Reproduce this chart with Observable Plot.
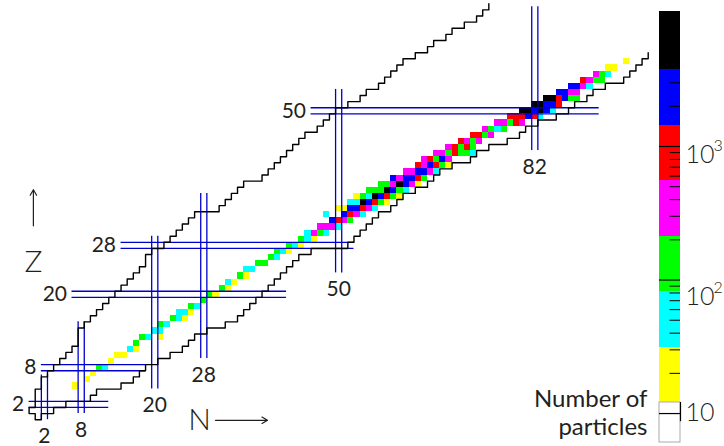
<!DOCTYPE html>
<html><head><meta charset="utf-8">
<script src="https://cdn.jsdelivr.net/npm/d3@7"></script>
<script src="https://cdn.jsdelivr.net/npm/@observablehq/plot@0.6"></script>
<style>
body{margin:0;background:#fff;}
#wrap{position:relative;width:724px;height:446px;overflow:hidden;}
#wrap svg{position:absolute;left:0;top:0;}
</style></head><body><div id="wrap"></div>
<script>
// ---------- data ----------
const levelCodes = "YCGMRBK";
const levelColors = ["#ffff00","#00ffff","#00ff00","#ff00ff","#ff0000","#0000ff","#000000"];
// [Z, first N, colour level codes along N ('.' = empty)]
const cellRows = [
 [5,7,"Y"],[6,9,"Y"],[7,10,"Y"],[8,11,"GC"],[9,13,"Y"],[10,14,"YY"],[11,16,"CY"],[12,17,"G"],
 [13,18,"GC.Y"],[14,20,"CC"],[15,21,"GC"],[16,23,"GCY"],[17,24,"CCY"],[18,26,"GC"],[19,28,"G"],
 [20,29,"GY"],[21,31,"GY"],[22,32,"CY"],[23,34,"GY"],[24,35,"CC"],[25,37,"GG"],[26,39,"GC"],
 [27,40,"GCY"],[28,42,"GCY"],[29,44,"GCY"],[30,45,"CMGC"],[31,47,"MMMC"],[32,49,"BRMG"],
 [33,48,"C..BRMC"],[34,50,"YYBBRMC"],[35,52,"CCKBRGY"],[36,53,"YGCKBRGY"],[37,55,"GGGKBGC"],
 [38,57,"GGMKBMY"],[39,59,"BMBBRG"],[40,61,"MMBBMC"],[41,63,"RMBRGY"],[42,64,"MRGBM"],
 [43,66,"MMGRGGC"],[44,68,"MRGRG"],[45,70,"RMGM"],[46,72,"RRGM"],[47,74,"MGCG"],[48,76,"MMGRM"],
 [49,78,"RRRBRC"],[50,80,"KKBKBC"],[51,82,"KKBBR"],[52,84,"KKRBGG"],[53,86,"BBMM"],[54,88,"BBMC"],
 [55,90,"RMGG"],[56,92,"MGC"],[57,94,"YY"],[58,97,"Y"]
];
// lightest N for Z = 0..67 (proton drip line) and heaviest N for Z = 0..59 (neutron drip line)
const protonDripNmin = [1,0,1,1,1,2,2,3,4,5,6,7,8,8,8,9,10,11,12,13,14,15,16,17,18,19,19,20,22,23,24,25,26,27,31,32,33,34,35,38,39,40,41,42,43,44,45,47,48,49,50,52,54,55,57,58,59,60,61,63,65,66,68,69,71,73,74,75];
const neutronDripNmax = [1,3,5,9,10,14,16,17,18,20,22,24,25,26,28,31,33,34,35,36,37,38,39,40,41,42,43,45,51,52,53,54,55,56,58,59,60,62,64,65,66,68,71,72,74,77,79,80,82,85,87,88,90,91,93,96,97,98,99,100];
// magic numbers
const magicN = [2,8,20,28,50,82];
const magicNZfrom = [-0.5,0.5,4.5,9.5,23.5,43.5];
const magicNZto = [6.8,15.5,29.5,36.5,53.5,67];
const magicZ = [2,8,20,28,50];
const magicZNfrom = [-0.5,1.5,6.5,14.5,45.5];
const magicZNto = [12.5,18.5,41.5,52.5,92.5];
// colour bar
const barEdges = [6.07,12.1,31.4,81.8,213,555,1444,3758,10260];
const barColors = ["#ffffff",...levelColors];
const majorTicks = [10,100,1000];
const minorTicks = [20,30,40,50,60,70,80,90,200,300,400,500,600,700,800,900,2000,3000,4000,5000,6000,7000,8000,9000];
const tickBase = ["10","10","10"];
const tickExp = ["","2","3"];
const tickShift = [-1,17,8];
// axis captions (chart units)
const axisArrows = [{x1:29.9,y1:-0.6,x2:38.4,y2:-0.6},{x1:0.2,y1:31.2,x2:0.2,y2:37.1}];
const axisNames = [{t:"N",x:27.3,y:-0.6},{t:"Z",x:0.2,y:25.2}];

// ---------- derived tables ----------
const cells = [];
for (const [z,n0,codes] of cellRows) {
  [...codes].forEach((ch,i)=>{ if (ch !== ".") cells.push({N:n0+i, Z:z, level:levelCodes.indexOf(ch)}); });
}
const outline = [];
for (let z = protonDripNmin.length-1; z >= 0; z--) { const x = protonDripNmin[z]-0.5; outline.push({N:x,Z:z+0.5},{N:x,Z:z-0.5}); }
for (let z = 0; z < neutronDripNmax.length; z++) { const x = neutronDripNmax[z]+0.5; outline.push({N:x,Z:z-0.5},{N:x,Z:z+0.5}); }
const vLines = [], hLines = [];
magicN.forEach((n,i)=>{ for (const d of [-0.5,0.5]) vLines.push({x:n+d,y1:magicNZfrom[i],y2:magicNZto[i]}); });
magicZ.forEach((z,i)=>{ for (const d of [-0.5,0.5]) hLines.push({y:z+d,x1:magicZNfrom[i],x2:magicZNto[i]}); });
const nLabels = magicN.map((n,i)=>({n, z:magicNZfrom[i]}));
const zLabels = magicZ.map((z,i)=>({z, n:magicZNfrom[i]}));
const bands = barColors.map((c,i)=>({lo:barEdges[i],hi:barEdges[i+1],c}));
const tickText = majorTicks.map((v,i)=>({v, base:tickBase[i], exp:tickExp[i], shift:tickShift[i]}));

const FONT = "Lato, 'Open Sans', sans-serif";
const INK = "#231f20";
const BLUE = "#0000cc";

const main = Plot.plot({
  width:724, height:446, margin:0,
  x:{domain:[8,82], range:[80.7,534.3], axis:null},
  y:{domain:[8,50], range:[367.2,110.3], axis:null},
  color:{type:"ordinal", domain:d3.range(7), range:levelColors},
  style:{background:"transparent", fontFamily:FONT},
  marks:[
    Plot.rect(cells,{x1:d=>d.N-0.5,x2:d=>d.N+0.5,y1:d=>d.Z-0.5,y2:d=>d.Z+0.5,fill:"level",shapeRendering:"crispEdges"}),
    Plot.ruleX(vLines,{x:"x",y1:"y1",y2:"y2",stroke:BLUE,strokeWidth:1.3}),
    Plot.ruleY(hLines,{y:"y",x1:"x1",x2:"x2",stroke:BLUE,strokeWidth:1.3}),
    Plot.line(outline,{x:"N",y:"Z",stroke:"#000",strokeWidth:1.4}),
    Plot.text(nLabels,{x:"n",y:"z",text:d=>String(d.n),dy:16.5,fontSize:21,fill:INK,fontWeight:400}),
    Plot.text(zLabels,{x:"n",y:"z",text:d=>String(d.z),dx:-5,textAnchor:"end",fontSize:21,fill:INK,fontWeight:400}),
    Plot.arrow(axisArrows,{x1:"x1",y1:"y1",x2:"x2",y2:"y2",stroke:INK,strokeWidth:1.2,headLength:8}),
    Plot.text(axisNames,{x:"x",y:"y",text:"t",fontSize:30,fill:INK,fontWeight:300})
  ]
});

const bar = Plot.plot({
  width:724, height:446, margin:0,
  x:{domain:[0,1], range:[659,680], axis:null},
  y:{type:"log", domain:[barEdges[0],barEdges[barEdges.length-1]], range:[442,11], axis:null},
  style:{background:"transparent", fontFamily:FONT},
  marks:[
    Plot.rect(bands,{x1:0,x2:1,y1:"lo",y2:"hi",fill:"c",shapeRendering:"crispEdges"}),
    Plot.rect([bands[0]],{x1:0,x2:1,y1:"lo",y2:"hi",fill:"none",stroke:"#aaa",strokeWidth:1}),
    Plot.ruleY(minorTicks,{y:d=>d,x1:0.5,x2:1,stroke:"#000",strokeWidth:1}),
    Plot.ruleY(majorTicks,{y:d=>d,x1:0,x2:1,stroke:"#000",strokeWidth:1.2}),
    Plot.ruleX([1],{y1:8.7,y2:12.1,stroke:"#000",strokeWidth:1.2}),
    ...tickText.map(t=>Plot.text([t],{x:()=>1,y:"v",text:"base",dx:5,dy:t.shift,textAnchor:"start",fontSize:25,fill:INK,fontWeight:300})),
    ...tickText.filter(t=>t.exp).map(t=>Plot.text([t],{x:()=>1,y:"v",text:"exp",dx:33,dy:t.shift-9,textAnchor:"start",fontSize:16,fill:INK,fontWeight:300})),
    Plot.text(["Number of\nparticles"],{frameAnchor:"bottom-right",dx:-77,dy:-12,lineAnchor:"bottom",textAnchor:"end",lineHeight:1.13,fontSize:24,fill:INK,fontWeight:400})
  ]
});

const wrap = document.getElementById("wrap");
wrap.appendChild(main);
wrap.appendChild(bar);
</script></body></html>
